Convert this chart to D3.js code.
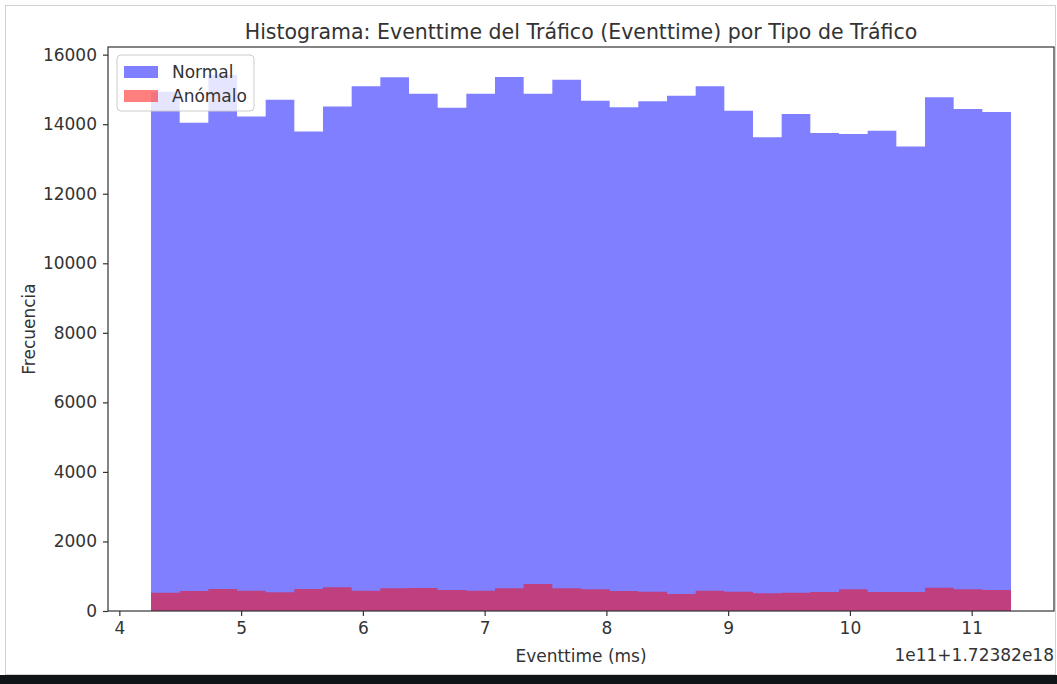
<!DOCTYPE html>
<html>
<head>
<meta charset="utf-8">
<script src="https://cdn.jsdelivr.net/npm/d3@7"></script>
<style>
  body { margin: 0; background: #fff; }
  svg { display: block; font-family: "DejaVu Sans", sans-serif; }
</style>
</head>
<body>
<svg id="chart" width="1057" height="684"></svg>
<script>
// histogram counts, 30 bins
const normalCounts = [14935, 14043, 15424, 14224, 14705, 13793, 14512, 15088, 15347, 14878,
  14475, 14878, 15357, 14878, 15281, 14676, 14484, 14657, 14820, 15088,
  14388, 13621, 14293, 13746, 13718, 13813, 13362, 14772, 14437, 14351]
const anomCounts = [527, 575, 633, 585, 537, 633, 681, 585, 652, 660,
  604, 585, 652, 777, 652, 624, 575, 556, 489, 585,
  556, 508, 527, 547, 624, 547, 547, 671, 624, 604]
// bin range in units of 1e11 (offset 1.72382e18)
const binRange = [4.26, 11.323]
const xTicks = [4, 5, 6, 7, 8, 9, 10, 11]
const yTicks = [0, 2000, 4000, 6000, 8000, 10000, 12000, 14000, 16000]
const series = [
  { name: "Normal", counts: normalCounts, color: "blue" },
  { name: "Anómalo", counts: anomCounts, color: "red" }
]

const dims = { left: 108, right: 1054, top: 47, bottom: 611 }
const svg = d3.select("#chart")

// outer screenshot frame and dark band at bottom
svg.append("rect").attr("x", 5.5).attr("y", 5.5).attr("width", 1050).attr("height", 669)
  .attr("fill", "none").attr("stroke", "#d0d0d0")
svg.append("rect").attr("x", 0).attr("y", 675).attr("width", 1057).attr("height", 9).attr("fill", "#111417")

let nb = normalCounts.length
let step = (binRange[1] - binRange[0]) / nb
let pad = (binRange[1] - binRange[0]) * 0.05

let x = d3.scaleLinear().domain([binRange[0] - pad, binRange[1] + pad]).range([dims.left, dims.right])
let y = d3.scaleLinear().domain([0, 16220]).range([dims.bottom, dims.top])

// bars, drawn as one stepped shape per series so the alpha has no seams
let area = d3.area()
  .x(d => x(d.x))
  .y0(y(0))
  .y1(d => y(d.v))
  .curve(d3.curveStepAfter)
series.forEach(s => {
  let pts = s.counts.map((v, i) => ({ x: binRange[0] + i * step, v: v }))
  pts.push({ x: binRange[1], v: s.counts[nb - 1] })
  svg.append("path").datum(pts)
    .attr("d", area)
    .attr("fill", s.color)
    .attr("fill-opacity", 0.5)
})

// axes
let axisx = d3.axisBottom(x).tickValues(xTicks).tickSize(5).tickPadding(6).tickFormat(d3.format("d"))
let axisy = d3.axisLeft(y).tickValues(yTicks).tickSize(5).tickPadding(6).tickFormat(d3.format("d"))
let gx = svg.append("g").attr("transform", `translate(0,${dims.bottom})`).call(axisx)
let gy = svg.append("g").attr("transform", `translate(${dims.left},0)`).call(axisy)
;[gx, gy].forEach(g => {
  g.select(".domain").remove()
  g.selectAll("line").attr("stroke", "#333").attr("stroke-width", 1.2)
  g.selectAll("text").attr("fill", "#333").style("font-size", "17px").style("font-family", "DejaVu Sans")
})

// frame
svg.append("rect").attr("x", dims.left).attr("y", dims.top)
  .attr("width", dims.right - dims.left).attr("height", dims.bottom - dims.top)
  .attr("fill", "none").attr("stroke", "#333").attr("stroke-width", 1.2)

// texts
svg.append("text").attr("x", (dims.left + dims.right) / 2).attr("y", 39)
  .attr("text-anchor", "middle").attr("fill", "#333").style("font-size", "20.5px")
  .text("Histograma: Eventtime del Tráfico (Eventtime) por Tipo de Tráfico")
svg.append("text").attr("x", (dims.left + dims.right) / 2).attr("y", 662)
  .attr("text-anchor", "middle").attr("fill", "#333").style("font-size", "17px")
  .text("Eventtime (ms)")
svg.append("text").attr("transform", `translate(35,${(dims.top + dims.bottom) / 2}) rotate(-90)`)
  .attr("text-anchor", "middle").attr("fill", "#333").style("font-size", "17px")
  .text("Frecuencia")
svg.append("text").attr("x", dims.right).attr("y", 661)
  .attr("text-anchor", "end").attr("fill", "#333").style("font-size", "17px")
  .text("1e11+1.72382e18")

// legend
let lg = svg.append("g").attr("transform", `translate(117,55)`)
lg.append("rect").attr("width", 137).attr("height", 56).attr("rx", 4)
  .attr("fill", "#fff").attr("fill-opacity", 0.8).attr("stroke", "#ccc")
series.forEach((s, i) => {
  lg.append("rect").attr("x", 7).attr("y", 11 + i * 24).attr("width", 34).attr("height", 12)
    .attr("fill", s.color).attr("fill-opacity", 0.5)
  lg.append("text").attr("x", 55).attr("y", 17 + i * 24).attr("dy", "0.35em")
    .attr("fill", "#333").style("font-size", "17px").text(s.name)
})
</script>
</body>
</html>
